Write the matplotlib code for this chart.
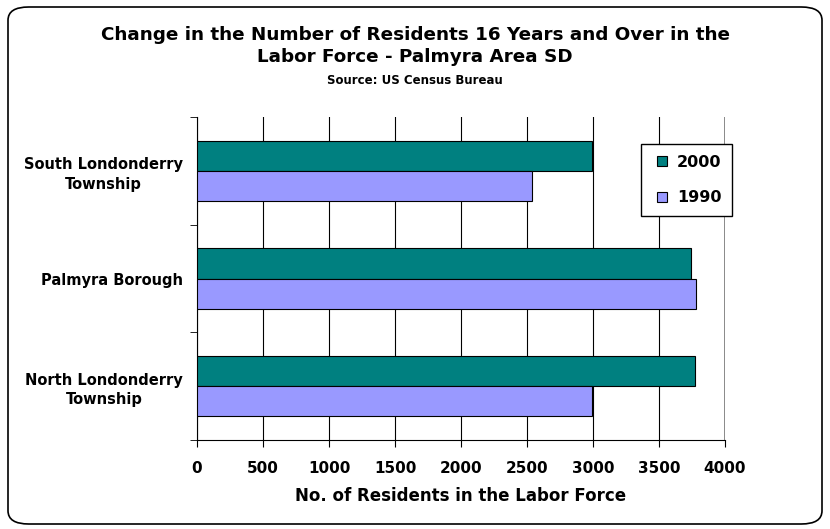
import numpy as np
import matplotlib.pyplot as plt
from matplotlib.lines import Line2D
from matplotlib.patches import FancyBboxPatch

places = ["South Londonderry\nTownship", "Palmyra Borough", "North Londonderry\nTownship"]
y2000 = [2990, 3740, 3770]
y1990 = [2535, 3780, 2990]
xticks = [0, 500, 1000, 1500, 2000, 2500, 3000, 3500, 4000]
c2000 = "#008080"
c1990 = "#9999FF"

plt.rcParams["font.family"] = ["DejaVu Sans"]

fig = plt.figure(figsize=(8.3, 5.29), dpi=100)
ax = fig.add_axes([197 / 830, 1 - 440 / 529, 528 / 830, 323 / 529])

pos = np.arange(len(places))
h = 0.28
ax.barh(pos - h / 2, y2000, height=h, color=c2000, edgecolor="black", linewidth=0.8, zorder=3)
ax.barh(pos + h / 2, y1990, height=h, color=c1990, edgecolor="black", linewidth=0.8, zorder=3)

ax.set_xlim(0, 4000)
ax.set_ylim(len(places) - 0.5, -0.5)
ax.set_xticks(xticks)
ax.set_xticklabels([str(v) for v in xticks], fontweight="bold", fontsize=11)
ax.set_yticks(pos)
ax.set_yticklabels(places, fontweight="bold", fontsize=10.5, linespacing=1.4, ha="right", multialignment="center")
ax.tick_params(axis="y", length=0, pad=10)
ax.set_yticks([-0.5, 0.5, 1.5, 2.5], minor=True)
ax.tick_params(axis="y", which="minor", length=5, direction="out")
ax.tick_params(axis="x", length=5, direction="out", pad=10)
ax.xaxis.grid(True, color="black", linewidth=0.8, zorder=0)
ax.axvline(4000, color="#808080", linewidth=1.2, zorder=1)
ax.spines["top"].set_visible(False)
ax.spines["right"].set_visible(False)
ax.set_xlabel("No. of Residents in the Labor Force", fontweight="bold", fontsize=12, labelpad=8)

handles = [Line2D([], [], marker="s", linestyle="", markersize=7, markerfacecolor=c, markeredgecolor="black",
                  markeredgewidth=0.8) for c in (c2000, c1990)]
ax.legend(handles, ["2000", "1990"], loc="upper right", bbox_to_anchor=(1.013, 0.916), borderaxespad=0,
          prop={"weight": "bold", "size": 11.5}, handlelength=1.3, handletextpad=0.3, labelspacing=1.3,
          borderpad=0.65, fancybox=False, edgecolor="black", framealpha=1)

fig.text(0.5, 1 - 46 / 529, "Change in the Number of Residents 16 Years and Over in the\nLabor Force - Palmyra Area SD",
         ha="center", va="center", fontweight="bold", fontsize=13.2, linespacing=1.25)
fig.text(0.5, 1 - 80 / 529, "Source: US Census Bureau", ha="center", va="center", fontweight="bold", fontsize=8.5)

frame = FancyBboxPatch((8 / 830, 5 / 529), 814 / 830, 517 / 529, boxstyle="round,pad=0,rounding_size=0.025",
                       transform=fig.transFigure, fill=False, edgecolor="black", linewidth=1.2)
fig.patches.append(frame)

fig.savefig("out.png", dpi=100)
